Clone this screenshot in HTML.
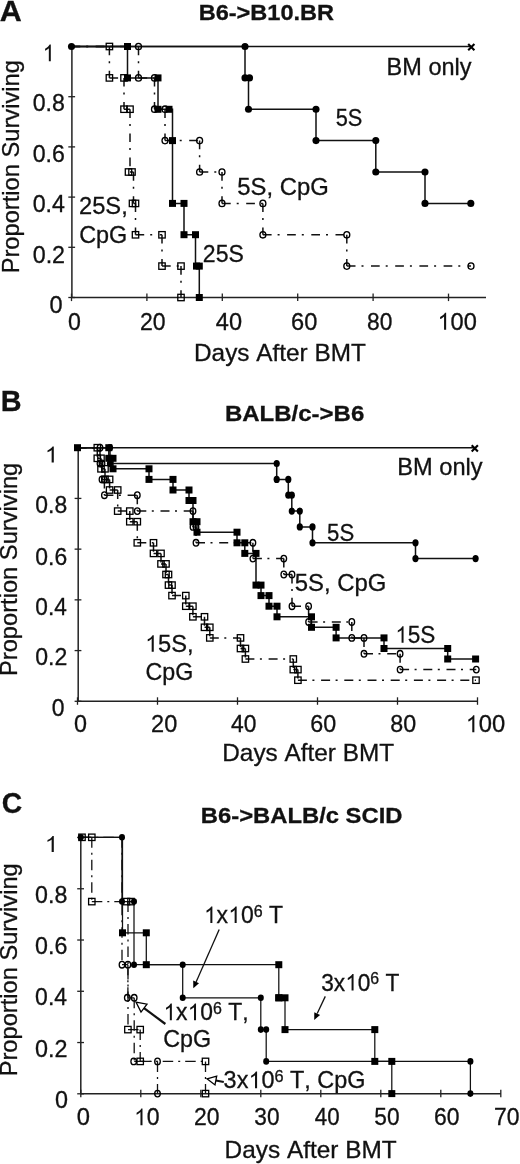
<!DOCTYPE html>
<html><head><meta charset="utf-8"><style>
html,body{margin:0;padding:0;background:#fff;}
svg{display:block;will-change:transform;}
text{font-family:"Liberation Sans",sans-serif;font-kerning:none;font-variant-ligatures:none;stroke:#111;stroke-width:0.3px;paint-order:stroke;}
</style></head><body>
<svg width="520" height="1164" viewBox="0 0 520 1164">
<rect width="520" height="1164" fill="#fff"/>
<line x1="71.9" y1="46.0" x2="71.9" y2="297.6" stroke="#222" stroke-width="1.5"/>
<line x1="71.9" y1="297.6" x2="486" y2="297.6" stroke="#222" stroke-width="1.5"/>
<line x1="68.30000000000001" y1="297.5" x2="75.10000000000001" y2="297.5" stroke="#222" stroke-width="1.3"/>
<line x1="68.30000000000001" y1="247.3" x2="75.10000000000001" y2="247.3" stroke="#222" stroke-width="1.3"/>
<line x1="68.30000000000001" y1="197.1" x2="75.10000000000001" y2="197.1" stroke="#222" stroke-width="1.3"/>
<line x1="68.30000000000001" y1="146.9" x2="75.10000000000001" y2="146.9" stroke="#222" stroke-width="1.3"/>
<line x1="68.30000000000001" y1="96.69999999999999" x2="75.10000000000001" y2="96.69999999999999" stroke="#222" stroke-width="1.3"/>
<line x1="68.30000000000001" y1="46.5" x2="75.10000000000001" y2="46.5" stroke="#222" stroke-width="1.3"/>
<line x1="71.5" y1="293.6" x2="71.5" y2="301.1" stroke="#222" stroke-width="1.3"/>
<line x1="146.9" y1="293.6" x2="146.9" y2="301.1" stroke="#222" stroke-width="1.3"/>
<line x1="222.3" y1="293.6" x2="222.3" y2="301.1" stroke="#222" stroke-width="1.3"/>
<line x1="297.70000000000005" y1="293.6" x2="297.70000000000005" y2="301.1" stroke="#222" stroke-width="1.3"/>
<line x1="373.1" y1="293.6" x2="373.1" y2="301.1" stroke="#222" stroke-width="1.3"/>
<line x1="448.5" y1="293.6" x2="448.5" y2="301.1" stroke="#222" stroke-width="1.3"/>
<text transform="translate(-0.13,20.80) scale(1.0101,1)" font-size="30.2" font-weight="bold" fill="#111">A</text>
<text transform="translate(18.75,273.34) rotate(-90) scale(1.0214,1)" font-size="23.2" fill="#111">Proportion Surviving</text>
<g transform="translate(42.48,61.20) scale(0.9621,1)" fill="#111"><path transform="translate(0.00,0) scale(0.01133,-0.01133)" d="M763 0L583 0L583 1147Q518 1085 432 1022Q332 960 240 925L240 1099Q389 1169 501 1269Q613 1369 660 1466L763 1466Z"/></g>
<text transform="translate(32.70,111.40) scale(0.9985,1)" font-size="23.2" fill="#111">0.8</text>
<text transform="translate(32.70,162.10) scale(0.9985,1)" font-size="23.2" fill="#111">0.6</text>
<text transform="translate(32.69,212.20) scale(1.0010,1)" font-size="23.2" fill="#111">0.4</text>
<text transform="translate(32.69,262.50) scale(1.0039,1)" font-size="23.2" fill="#111">0.2</text>
<text transform="translate(49.38,312.70) scale(1.0168,1)" font-size="23.2" fill="#111">0</text>
<text transform="translate(68.10,329.70) scale(0.9819,1)" font-size="23.6" fill="#111">0</text>
<text transform="translate(140.05,329.70) scale(0.9766,1)" font-size="23.6" fill="#111">20</text>
<text transform="translate(215.78,329.70) scale(0.9989,1)" font-size="23.6" fill="#111">40</text>
<text transform="translate(291.02,329.70) scale(1.0014,1)" font-size="23.6" fill="#111">60</text>
<text transform="translate(367.12,329.70) scale(0.9658,1)" font-size="23.6" fill="#111">80</text>
<g transform="translate(437.33,329.70) scale(1.0025,1)" fill="#111"><path transform="translate(0.00,0) scale(0.01152,-0.01152)" d="M763 0L583 0L583 1147Q518 1085 432 1022Q332 960 240 925L240 1099Q389 1169 501 1269Q613 1369 660 1466L763 1466Z"/><text x="13.13" y="0" font-size="23.6">00</text></g>
<text transform="translate(194.00,360.60) scale(1.0284,1)" font-size="23.7" fill="#111">Days After BMT</text>
<text transform="translate(386.57,74.80) scale(1.0097,1)" font-size="23.3" fill="#111">BM only</text>
<text transform="translate(335.73,125.90) scale(0.9475,1)" font-size="23" fill="#111">5S</text>
<text transform="translate(237.35,194.80) scale(1.0016,1)" font-size="23.8" fill="#111">5S, CpG</text>
<text transform="translate(79.02,214.30) scale(1.0078,1)" font-size="23.5" fill="#111">25S,</text>
<text transform="translate(79.23,242.50) scale(0.9998,1)" font-size="23.4" fill="#111">CpG</text>
<text transform="translate(202.85,262.00) scale(0.9931,1)" font-size="23.2" fill="#111">25S</text>
<path d="M71.5,46.5L109.4,46.5M109.4,46.5L109.4,77.9M109.4,77.9L124.0,77.9M124.0,77.9L124.0,109.2M124.0,109.2L130.0,109.2M130.0,109.2L130.0,172.0M130.0,172.0L133.5,172.0M133.5,172.0L133.5,203.4M133.5,203.4L135.5,203.4M135.5,203.4L135.5,234.8M135.5,234.8L162.0,234.8M162.0,234.8L162.0,266.1M162.0,266.1L181.0,266.1M181.0,266.1L181.0,297.5" fill="none" stroke="#111" stroke-width="1.5" stroke-dasharray="8.7 6 2 7.5"/>
<path d="M71.5,46.5L138.5,46.5M138.5,46.5L138.5,77.9M138.5,77.9L154.5,77.9M154.5,77.9L154.5,109.2M154.5,109.2L165.0,109.2M165.0,109.2L165.0,140.6M165.0,140.6L199.6,140.6M199.6,140.6L199.6,172.0M199.6,172.0L222.0,172.0M222.0,172.0L222.0,203.4M222.0,203.4L262.9,203.4M262.9,203.4L262.9,234.8M262.9,234.8L346.8,234.8M346.8,234.8L346.8,266.1M346.8,266.1L471.0,266.1" fill="none" stroke="#111" stroke-width="1.5" stroke-dasharray="8.7 6 2 7.5"/>
<polyline points="71.5,46.5 127.5,46.5 127.5,77.9 158.0,77.9 158.0,109.2 172.5,109.2 172.5,203.4 184.0,203.4 184.0,234.8 195.5,234.8 195.5,266.1 199.3,266.1 199.3,297.5" fill="none" stroke="#111" stroke-width="1.5" stroke-linejoin="miter"/>
<polyline points="71.5,46.5 245.0,46.5 245.0,77.9 248.5,77.9 248.5,109.2 316.0,109.2 316.0,140.6 375.8,140.6 375.8,172.0 425.0,172.0 425.0,203.4 470.8,203.4" fill="none" stroke="#111" stroke-width="1.5" stroke-linejoin="miter"/>
<line x1="71.5" y1="46.5" x2="471.3" y2="46.5" stroke="#111" stroke-width="1.5"/>
<path d="M468.2,44.0L474.4,50.2M468.2,50.2L474.4,44.0" stroke="#000" stroke-width="2.1"/>
<rect x="106.2" y="43.3" width="6.4" height="6.4" fill="none" stroke="#000" stroke-width="1.3"/>
<rect x="106.2" y="74.7" width="6.4" height="6.4" fill="none" stroke="#000" stroke-width="1.3"/>
<rect x="120.8" y="74.7" width="6.4" height="6.4" fill="none" stroke="#000" stroke-width="1.3"/>
<rect x="120.8" y="106.0" width="6.4" height="6.4" fill="none" stroke="#000" stroke-width="1.3"/>
<rect x="126.8" y="106.0" width="6.4" height="6.4" fill="none" stroke="#000" stroke-width="1.3"/>
<rect x="125.3" y="168.8" width="6.4" height="6.4" fill="none" stroke="#000" stroke-width="1.3"/>
<rect x="128.8" y="168.8" width="6.4" height="6.4" fill="none" stroke="#000" stroke-width="1.3"/>
<rect x="129.3" y="200.2" width="6.4" height="6.4" fill="none" stroke="#000" stroke-width="1.3"/>
<rect x="132.3" y="200.2" width="6.4" height="6.4" fill="none" stroke="#000" stroke-width="1.3"/>
<rect x="132.3" y="231.6" width="6.4" height="6.4" fill="none" stroke="#000" stroke-width="1.3"/>
<rect x="158.8" y="231.6" width="6.4" height="6.4" fill="none" stroke="#000" stroke-width="1.3"/>
<rect x="158.8" y="262.9" width="6.4" height="6.4" fill="none" stroke="#000" stroke-width="1.3"/>
<rect x="177.8" y="262.9" width="6.4" height="6.4" fill="none" stroke="#000" stroke-width="1.3"/>
<rect x="177.8" y="294.3" width="6.4" height="6.4" fill="none" stroke="#000" stroke-width="1.3"/>
<ellipse cx="138.5" cy="46.5" rx="3.00" ry="3.20" fill="none" stroke="#000" stroke-width="1.3"/>
<ellipse cx="138.5" cy="77.9" rx="3.00" ry="3.20" fill="none" stroke="#000" stroke-width="1.3"/>
<ellipse cx="154.5" cy="77.9" rx="3.00" ry="3.20" fill="none" stroke="#000" stroke-width="1.3"/>
<ellipse cx="154.5" cy="109.2" rx="3.00" ry="3.20" fill="none" stroke="#000" stroke-width="1.3"/>
<ellipse cx="165.0" cy="109.2" rx="3.00" ry="3.20" fill="none" stroke="#000" stroke-width="1.3"/>
<ellipse cx="165.0" cy="140.6" rx="3.00" ry="3.20" fill="none" stroke="#000" stroke-width="1.3"/>
<ellipse cx="199.6" cy="140.6" rx="3.00" ry="3.20" fill="none" stroke="#000" stroke-width="1.3"/>
<ellipse cx="199.6" cy="172.0" rx="3.00" ry="3.20" fill="none" stroke="#000" stroke-width="1.3"/>
<ellipse cx="222.0" cy="172.0" rx="3.00" ry="3.20" fill="none" stroke="#000" stroke-width="1.3"/>
<ellipse cx="222.0" cy="203.4" rx="3.00" ry="3.20" fill="none" stroke="#000" stroke-width="1.3"/>
<ellipse cx="262.9" cy="203.4" rx="3.00" ry="3.20" fill="none" stroke="#000" stroke-width="1.3"/>
<ellipse cx="262.9" cy="234.8" rx="3.00" ry="3.20" fill="none" stroke="#000" stroke-width="1.3"/>
<ellipse cx="346.8" cy="234.8" rx="3.00" ry="3.20" fill="none" stroke="#000" stroke-width="1.3"/>
<ellipse cx="346.8" cy="266.1" rx="3.00" ry="3.20" fill="none" stroke="#000" stroke-width="1.3"/>
<ellipse cx="471.0" cy="266.1" rx="3.00" ry="3.20" fill="none" stroke="#000" stroke-width="1.3"/>
<rect x="124.0" y="43.0" width="7.0" height="7.0" fill="#000"/>
<rect x="124.0" y="74.4" width="7.0" height="7.0" fill="#000"/>
<rect x="154.5" y="74.4" width="7.0" height="7.0" fill="#000"/>
<rect x="154.5" y="105.8" width="7.0" height="7.0" fill="#000"/>
<rect x="165.5" y="105.8" width="7.0" height="7.0" fill="#000"/>
<rect x="169.0" y="137.1" width="7.0" height="7.0" fill="#000"/>
<rect x="169.0" y="199.9" width="7.0" height="7.0" fill="#000"/>
<rect x="180.5" y="199.9" width="7.0" height="7.0" fill="#000"/>
<rect x="180.5" y="231.2" width="7.0" height="7.0" fill="#000"/>
<rect x="192.0" y="231.2" width="7.0" height="7.0" fill="#000"/>
<rect x="193.0" y="262.6" width="7.0" height="7.0" fill="#000"/>
<rect x="195.8" y="262.6" width="7.0" height="7.0" fill="#000"/>
<rect x="195.8" y="294.0" width="7.0" height="7.0" fill="#000"/>
<ellipse cx="245.0" cy="46.5" rx="3.55" ry="3.55" fill="#000"/>
<ellipse cx="245.0" cy="77.9" rx="3.55" ry="3.55" fill="#000"/>
<ellipse cx="249.5" cy="77.9" rx="3.55" ry="3.55" fill="#000"/>
<ellipse cx="248.5" cy="109.2" rx="3.55" ry="3.55" fill="#000"/>
<ellipse cx="316.0" cy="109.2" rx="3.55" ry="3.55" fill="#000"/>
<ellipse cx="316.0" cy="140.6" rx="3.55" ry="3.55" fill="#000"/>
<ellipse cx="375.8" cy="140.6" rx="3.55" ry="3.55" fill="#000"/>
<ellipse cx="375.8" cy="172.0" rx="3.55" ry="3.55" fill="#000"/>
<ellipse cx="425.0" cy="172.0" rx="3.55" ry="3.55" fill="#000"/>
<ellipse cx="425.0" cy="203.4" rx="3.55" ry="3.55" fill="#000"/>
<ellipse cx="470.8" cy="203.4" rx="3.55" ry="3.55" fill="#000"/>
<ellipse cx="71.5" cy="46.5" rx="3.55" ry="3.55" fill="#000"/>
<text transform="translate(198.64,19.80) scale(1.0380,1)" font-size="22.7" font-weight="bold" fill="#111">B6-&gt;B10.BR</text>
<line x1="78.2" y1="447.2" x2="78.2" y2="701.3" stroke="#222" stroke-width="1.5"/>
<line x1="78.2" y1="701.3" x2="477.3" y2="701.3" stroke="#222" stroke-width="1.5"/>
<line x1="74.60000000000001" y1="701.3" x2="81.4" y2="701.3" stroke="#222" stroke-width="1.3"/>
<line x1="74.60000000000001" y1="650.5799999999999" x2="81.4" y2="650.5799999999999" stroke="#222" stroke-width="1.3"/>
<line x1="74.60000000000001" y1="599.8599999999999" x2="81.4" y2="599.8599999999999" stroke="#222" stroke-width="1.3"/>
<line x1="74.60000000000001" y1="549.14" x2="81.4" y2="549.14" stroke="#222" stroke-width="1.3"/>
<line x1="74.60000000000001" y1="498.41999999999996" x2="81.4" y2="498.41999999999996" stroke="#222" stroke-width="1.3"/>
<line x1="74.60000000000001" y1="447.69999999999993" x2="81.4" y2="447.69999999999993" stroke="#222" stroke-width="1.3"/>
<line x1="77.5" y1="697.3" x2="77.5" y2="704.8" stroke="#222" stroke-width="1.3"/>
<line x1="157.5" y1="697.3" x2="157.5" y2="704.8" stroke="#222" stroke-width="1.3"/>
<line x1="237.5" y1="697.3" x2="237.5" y2="704.8" stroke="#222" stroke-width="1.3"/>
<line x1="317.5" y1="697.3" x2="317.5" y2="704.8" stroke="#222" stroke-width="1.3"/>
<line x1="397.5" y1="697.3" x2="397.5" y2="704.8" stroke="#222" stroke-width="1.3"/>
<line x1="477.5" y1="697.3" x2="477.5" y2="704.8" stroke="#222" stroke-width="1.3"/>
<text transform="translate(0.70,411.40) scale(0.9538,1)" font-size="30.2" font-weight="bold" fill="#111">B</text>
<text transform="translate(224.92,420.80) scale(1.0577,1)" font-size="22.7" font-weight="bold" fill="#111">BALB/c-&gt;B6</text>
<text transform="translate(17.30,676.04) rotate(-90) scale(1.0263,1)" font-size="23.1" fill="#111">Proportion Surviving</text>
<g transform="translate(44.61,462.40) scale(1.1063,1)" fill="#111"><path transform="translate(0.00,0) scale(0.01089,-0.01089)" d="M763 0L583 0L583 1147Q518 1085 432 1022Q332 960 240 925L240 1099Q389 1169 501 1269Q613 1369 660 1466L763 1466Z"/></g>
<text transform="translate(35.31,512.80) scale(0.9886,1)" font-size="23.2" fill="#111">0.8</text>
<text transform="translate(35.31,564.50) scale(0.9886,1)" font-size="23.2" fill="#111">0.6</text>
<text transform="translate(35.31,614.80) scale(0.9781,1)" font-size="23.2" fill="#111">0.4</text>
<text transform="translate(35.30,664.60) scale(0.9939,1)" font-size="23.2" fill="#111">0.2</text>
<text transform="translate(51.70,716.00) scale(0.9898,1)" font-size="23.2" fill="#111">0</text>
<text transform="translate(74.09,732.20) scale(0.9908,1)" font-size="23.6" fill="#111">0</text>
<text transform="translate(151.12,732.20) scale(0.9973,1)" font-size="23.6" fill="#111">20</text>
<text transform="translate(231.10,732.20) scale(0.9667,1)" font-size="23.6" fill="#111">40</text>
<text transform="translate(310.33,732.20) scale(0.9890,1)" font-size="23.6" fill="#111">60</text>
<text transform="translate(390.20,732.20) scale(0.9864,1)" font-size="23.6" fill="#111">80</text>
<g transform="translate(465.51,732.20) scale(1.0081,1)" fill="#111"><path transform="translate(0.00,0) scale(0.01152,-0.01152)" d="M763 0L583 0L583 1147Q518 1085 432 1022Q332 960 240 925L240 1099Q389 1169 501 1269Q613 1369 660 1466L763 1466Z"/><text x="13.13" y="0" font-size="23.6">00</text></g>
<text transform="translate(222.30,760.60) scale(1.0229,1)" font-size="23.8" fill="#111">Days After BMT</text>
<text transform="translate(397.36,475.20) scale(1.0102,1)" font-size="23.4" fill="#111">BM only</text>
<text transform="translate(327.11,540.80) scale(0.9628,1)" font-size="23" fill="#111">5S</text>
<text transform="translate(294.84,591.20) scale(1.0038,1)" font-size="23.8" fill="#111">5S, CpG</text>
<g transform="translate(395.15,642.80) scale(0.9813,1)" fill="#111"><path transform="translate(0.00,0) scale(0.01123,-0.01123)" d="M763 0L583 0L583 1147Q518 1085 432 1022Q332 960 240 925L240 1099Q389 1169 501 1269Q613 1369 660 1466L763 1466Z"/><text x="12.79" y="0" font-size="23">5S</text></g>
<g transform="translate(144.92,651.80) scale(1.0228,1)" fill="#111"><path transform="translate(0.00,0) scale(0.01133,-0.01133)" d="M763 0L583 0L583 1147Q518 1085 432 1022Q332 960 240 925L240 1099Q389 1169 501 1269Q613 1369 660 1466L763 1466Z"/><text x="12.90" y="0" font-size="23.2">5S,</text></g>
<text transform="translate(145.54,679.60) scale(1.0017,1)" font-size="23.2" fill="#111">CpG</text>
<path d="M77.5,447.7L97.3,447.7M97.3,447.7L97.3,458.3M97.3,458.3L101.0,458.3M101.0,458.3L101.0,468.8M101.0,468.8L105.0,468.8M105.0,468.8L105.0,479.4M105.0,479.4L109.6,479.4M109.6,479.4L109.6,490.0M109.6,490.0L117.7,490.0M117.7,490.0L117.7,511.1M117.7,511.1L129.8,511.1M129.8,511.1L129.8,521.7M129.8,521.7L137.3,521.7M137.3,521.7L137.3,542.8M137.3,542.8L153.5,542.8M153.5,542.8L153.5,553.4M153.5,553.4L161.0,553.4M161.0,553.4L161.0,563.9M161.0,563.9L166.0,563.9M166.0,563.9L166.0,574.5M166.0,574.5L168.5,574.5M168.5,574.5L168.5,585.1M168.5,585.1L172.0,585.1M172.0,585.1L172.0,595.6M172.0,595.6L185.8,595.6M185.8,595.6L185.8,606.2M185.8,606.2L192.9,606.2M192.9,606.2L192.9,616.8M192.9,616.8L204.5,616.8M204.5,616.8L204.5,627.3M204.5,627.3L209.8,627.3M209.8,627.3L209.8,637.9M209.8,637.9L240.5,637.9M240.5,637.9L240.5,648.5M240.5,648.5L245.4,648.5M245.4,648.5L245.4,659.0M245.4,659.0L293.3,659.0M293.3,659.0L293.3,669.6M293.3,669.6L297.9,669.6M297.9,669.6L297.9,680.2M297.9,680.2L476.0,680.2" fill="none" stroke="#111" stroke-width="1.5" stroke-dasharray="9 5.5 2 6.7"/>
<path d="M77.5,447.7L100.0,447.7M100.0,447.7L100.0,463.5M100.0,463.5L102.0,463.5M102.0,463.5L102.0,479.4M102.0,479.4L104.4,479.4M104.4,479.4L104.4,495.2M104.4,495.2L137.3,495.2M137.3,495.2L137.3,511.1M137.3,511.1L193.0,511.1M193.0,511.1L193.0,526.9M193.0,526.9L196.0,526.9M196.0,526.9L196.0,542.8M196.0,542.8L252.9,542.8M252.9,542.8L252.9,558.6M252.9,558.6L283.8,558.6M283.8,558.6L283.8,574.5M283.8,574.5L292.0,574.5M292.0,574.5L292.0,606.2M292.0,606.2L308.6,606.2M308.6,606.2L308.6,622.0M308.6,622.0L351.8,622.0M351.8,622.0L351.8,637.9M351.8,637.9L364.0,637.9M364.0,637.9L364.0,653.8M364.0,653.8L400.1,653.8M400.1,653.8L400.1,669.6M400.1,669.6L476.3,669.6" fill="none" stroke="#111" stroke-width="1.5" stroke-dasharray="9 5.5 2 6.7"/>
<polyline points="77.5,447.7 108.8,447.7 108.8,458.3 113.0,458.3 113.0,468.8 149.0,468.8 149.0,479.4 173.0,479.4 173.0,490.0 189.0,490.0 189.0,500.5 193.0,500.5 193.0,521.7 197.0,521.7 197.0,532.2 237.0,532.2 237.0,542.8 244.8,542.8 244.8,553.4 256.0,553.4 256.0,585.1 261.0,585.1 261.0,595.6 269.0,595.6 269.0,606.2 277.0,606.2 277.0,616.8 311.5,616.8 311.5,627.3 336.1,627.3 336.1,637.9 384.0,637.9 384.0,648.5 447.7,648.5 447.7,659.0 475.6,659.0" fill="none" stroke="#111" stroke-width="1.5" stroke-linejoin="miter"/>
<polyline points="77.5,447.7 110.0,447.7 110.0,463.5 276.7,463.5 276.7,479.4 288.3,479.4 288.3,495.2 291.8,495.2 291.8,511.1 299.8,511.1 299.8,526.9 312.5,526.9 312.5,542.8 415.5,542.8 415.5,558.6 475.6,558.6" fill="none" stroke="#111" stroke-width="1.5" stroke-linejoin="miter"/>
<line x1="77.5" y1="447.69999999999993" x2="474.8" y2="447.69999999999993" stroke="#111" stroke-width="1.5"/>
<path d="M471.7,445.2L477.9,451.4M471.7,451.4L477.9,445.2" stroke="#000" stroke-width="2.1"/>
<rect x="94.1" y="444.5" width="6.4" height="6.4" fill="none" stroke="#000" stroke-width="1.3"/>
<rect x="94.1" y="455.1" width="6.4" height="6.4" fill="none" stroke="#000" stroke-width="1.3"/>
<rect x="97.8" y="455.1" width="6.4" height="6.4" fill="none" stroke="#000" stroke-width="1.3"/>
<rect x="97.8" y="465.6" width="6.4" height="6.4" fill="none" stroke="#000" stroke-width="1.3"/>
<rect x="101.8" y="465.6" width="6.4" height="6.4" fill="none" stroke="#000" stroke-width="1.3"/>
<rect x="101.8" y="476.2" width="6.4" height="6.4" fill="none" stroke="#000" stroke-width="1.3"/>
<rect x="106.4" y="476.2" width="6.4" height="6.4" fill="none" stroke="#000" stroke-width="1.3"/>
<rect x="106.4" y="486.8" width="6.4" height="6.4" fill="none" stroke="#000" stroke-width="1.3"/>
<rect x="114.5" y="486.8" width="6.4" height="6.4" fill="none" stroke="#000" stroke-width="1.3"/>
<rect x="114.5" y="507.9" width="6.4" height="6.4" fill="none" stroke="#000" stroke-width="1.3"/>
<rect x="126.6" y="507.9" width="6.4" height="6.4" fill="none" stroke="#000" stroke-width="1.3"/>
<rect x="126.6" y="518.5" width="6.4" height="6.4" fill="none" stroke="#000" stroke-width="1.3"/>
<rect x="134.1" y="518.5" width="6.4" height="6.4" fill="none" stroke="#000" stroke-width="1.3"/>
<rect x="134.1" y="539.6" width="6.4" height="6.4" fill="none" stroke="#000" stroke-width="1.3"/>
<rect x="150.3" y="539.6" width="6.4" height="6.4" fill="none" stroke="#000" stroke-width="1.3"/>
<rect x="150.3" y="550.2" width="6.4" height="6.4" fill="none" stroke="#000" stroke-width="1.3"/>
<rect x="157.8" y="550.2" width="6.4" height="6.4" fill="none" stroke="#000" stroke-width="1.3"/>
<rect x="157.8" y="560.7" width="6.4" height="6.4" fill="none" stroke="#000" stroke-width="1.3"/>
<rect x="162.8" y="560.7" width="6.4" height="6.4" fill="none" stroke="#000" stroke-width="1.3"/>
<rect x="162.8" y="571.3" width="6.4" height="6.4" fill="none" stroke="#000" stroke-width="1.3"/>
<rect x="165.3" y="571.3" width="6.4" height="6.4" fill="none" stroke="#000" stroke-width="1.3"/>
<rect x="165.3" y="581.9" width="6.4" height="6.4" fill="none" stroke="#000" stroke-width="1.3"/>
<rect x="168.8" y="581.9" width="6.4" height="6.4" fill="none" stroke="#000" stroke-width="1.3"/>
<rect x="168.8" y="592.4" width="6.4" height="6.4" fill="none" stroke="#000" stroke-width="1.3"/>
<rect x="182.6" y="592.4" width="6.4" height="6.4" fill="none" stroke="#000" stroke-width="1.3"/>
<rect x="182.6" y="603.0" width="6.4" height="6.4" fill="none" stroke="#000" stroke-width="1.3"/>
<rect x="189.7" y="603.0" width="6.4" height="6.4" fill="none" stroke="#000" stroke-width="1.3"/>
<rect x="189.7" y="613.6" width="6.4" height="6.4" fill="none" stroke="#000" stroke-width="1.3"/>
<rect x="201.3" y="613.6" width="6.4" height="6.4" fill="none" stroke="#000" stroke-width="1.3"/>
<rect x="201.3" y="624.1" width="6.4" height="6.4" fill="none" stroke="#000" stroke-width="1.3"/>
<rect x="206.6" y="624.1" width="6.4" height="6.4" fill="none" stroke="#000" stroke-width="1.3"/>
<rect x="206.6" y="634.7" width="6.4" height="6.4" fill="none" stroke="#000" stroke-width="1.3"/>
<rect x="237.3" y="634.7" width="6.4" height="6.4" fill="none" stroke="#000" stroke-width="1.3"/>
<rect x="237.3" y="645.3" width="6.4" height="6.4" fill="none" stroke="#000" stroke-width="1.3"/>
<rect x="242.2" y="645.3" width="6.4" height="6.4" fill="none" stroke="#000" stroke-width="1.3"/>
<rect x="242.2" y="655.8" width="6.4" height="6.4" fill="none" stroke="#000" stroke-width="1.3"/>
<rect x="290.1" y="655.8" width="6.4" height="6.4" fill="none" stroke="#000" stroke-width="1.3"/>
<rect x="290.1" y="666.4" width="6.4" height="6.4" fill="none" stroke="#000" stroke-width="1.3"/>
<rect x="294.7" y="666.4" width="6.4" height="6.4" fill="none" stroke="#000" stroke-width="1.3"/>
<rect x="294.7" y="677.0" width="6.4" height="6.4" fill="none" stroke="#000" stroke-width="1.3"/>
<rect x="472.8" y="677.0" width="6.4" height="6.4" fill="none" stroke="#000" stroke-width="1.3"/>
<ellipse cx="100.0" cy="447.7" rx="2.80" ry="3.30" fill="none" stroke="#000" stroke-width="1.3"/>
<ellipse cx="100.0" cy="463.5" rx="2.80" ry="3.30" fill="none" stroke="#000" stroke-width="1.3"/>
<ellipse cx="102.0" cy="463.5" rx="2.80" ry="3.30" fill="none" stroke="#000" stroke-width="1.3"/>
<ellipse cx="102.0" cy="479.4" rx="2.80" ry="3.30" fill="none" stroke="#000" stroke-width="1.3"/>
<ellipse cx="104.4" cy="479.4" rx="2.80" ry="3.30" fill="none" stroke="#000" stroke-width="1.3"/>
<ellipse cx="104.4" cy="495.2" rx="2.80" ry="3.30" fill="none" stroke="#000" stroke-width="1.3"/>
<ellipse cx="137.3" cy="495.2" rx="2.80" ry="3.30" fill="none" stroke="#000" stroke-width="1.3"/>
<ellipse cx="137.3" cy="511.1" rx="2.80" ry="3.30" fill="none" stroke="#000" stroke-width="1.3"/>
<ellipse cx="193.0" cy="511.1" rx="2.80" ry="3.30" fill="none" stroke="#000" stroke-width="1.3"/>
<ellipse cx="193.0" cy="526.9" rx="2.80" ry="3.30" fill="none" stroke="#000" stroke-width="1.3"/>
<ellipse cx="196.0" cy="526.9" rx="2.80" ry="3.30" fill="none" stroke="#000" stroke-width="1.3"/>
<ellipse cx="196.0" cy="542.8" rx="2.80" ry="3.30" fill="none" stroke="#000" stroke-width="1.3"/>
<ellipse cx="252.9" cy="542.8" rx="2.80" ry="3.30" fill="none" stroke="#000" stroke-width="1.3"/>
<ellipse cx="252.9" cy="558.6" rx="2.80" ry="3.30" fill="none" stroke="#000" stroke-width="1.3"/>
<ellipse cx="283.8" cy="558.6" rx="2.80" ry="3.30" fill="none" stroke="#000" stroke-width="1.3"/>
<ellipse cx="283.8" cy="574.5" rx="2.80" ry="3.30" fill="none" stroke="#000" stroke-width="1.3"/>
<ellipse cx="292.0" cy="574.5" rx="2.80" ry="3.30" fill="none" stroke="#000" stroke-width="1.3"/>
<ellipse cx="292.0" cy="606.2" rx="2.80" ry="3.30" fill="none" stroke="#000" stroke-width="1.3"/>
<ellipse cx="308.6" cy="606.2" rx="2.80" ry="3.30" fill="none" stroke="#000" stroke-width="1.3"/>
<ellipse cx="308.6" cy="622.0" rx="2.80" ry="3.30" fill="none" stroke="#000" stroke-width="1.3"/>
<ellipse cx="351.8" cy="622.0" rx="2.80" ry="3.30" fill="none" stroke="#000" stroke-width="1.3"/>
<ellipse cx="351.8" cy="637.9" rx="2.80" ry="3.30" fill="none" stroke="#000" stroke-width="1.3"/>
<ellipse cx="364.0" cy="637.9" rx="2.80" ry="3.30" fill="none" stroke="#000" stroke-width="1.3"/>
<ellipse cx="364.0" cy="653.8" rx="2.80" ry="3.30" fill="none" stroke="#000" stroke-width="1.3"/>
<ellipse cx="400.1" cy="653.8" rx="2.80" ry="3.30" fill="none" stroke="#000" stroke-width="1.3"/>
<ellipse cx="400.1" cy="669.6" rx="2.80" ry="3.30" fill="none" stroke="#000" stroke-width="1.3"/>
<ellipse cx="476.3" cy="669.6" rx="2.80" ry="3.30" fill="none" stroke="#000" stroke-width="1.3"/>
<rect x="105.3" y="444.2" width="7.0" height="7.0" fill="#000"/>
<rect x="105.3" y="454.8" width="7.0" height="7.0" fill="#000"/>
<rect x="109.5" y="454.8" width="7.0" height="7.0" fill="#000"/>
<rect x="109.5" y="465.3" width="7.0" height="7.0" fill="#000"/>
<rect x="145.5" y="465.3" width="7.0" height="7.0" fill="#000"/>
<rect x="145.5" y="475.9" width="7.0" height="7.0" fill="#000"/>
<rect x="169.5" y="475.9" width="7.0" height="7.0" fill="#000"/>
<rect x="169.5" y="486.5" width="7.0" height="7.0" fill="#000"/>
<rect x="185.5" y="486.5" width="7.0" height="7.0" fill="#000"/>
<rect x="185.5" y="497.0" width="7.0" height="7.0" fill="#000"/>
<rect x="189.5" y="497.0" width="7.0" height="7.0" fill="#000"/>
<rect x="189.5" y="518.2" width="7.0" height="7.0" fill="#000"/>
<rect x="193.5" y="518.2" width="7.0" height="7.0" fill="#000"/>
<rect x="193.5" y="528.7" width="7.0" height="7.0" fill="#000"/>
<rect x="233.5" y="528.7" width="7.0" height="7.0" fill="#000"/>
<rect x="233.5" y="539.3" width="7.0" height="7.0" fill="#000"/>
<rect x="241.3" y="539.3" width="7.0" height="7.0" fill="#000"/>
<rect x="241.3" y="549.9" width="7.0" height="7.0" fill="#000"/>
<rect x="252.5" y="549.9" width="7.0" height="7.0" fill="#000"/>
<rect x="252.5" y="581.6" width="7.0" height="7.0" fill="#000"/>
<rect x="257.5" y="581.6" width="7.0" height="7.0" fill="#000"/>
<rect x="257.5" y="592.1" width="7.0" height="7.0" fill="#000"/>
<rect x="265.5" y="592.1" width="7.0" height="7.0" fill="#000"/>
<rect x="265.5" y="602.7" width="7.0" height="7.0" fill="#000"/>
<rect x="273.5" y="602.7" width="7.0" height="7.0" fill="#000"/>
<rect x="273.5" y="613.3" width="7.0" height="7.0" fill="#000"/>
<rect x="308.0" y="613.3" width="7.0" height="7.0" fill="#000"/>
<rect x="308.0" y="623.8" width="7.0" height="7.0" fill="#000"/>
<rect x="332.6" y="623.8" width="7.0" height="7.0" fill="#000"/>
<rect x="332.6" y="634.4" width="7.0" height="7.0" fill="#000"/>
<rect x="380.5" y="634.4" width="7.0" height="7.0" fill="#000"/>
<rect x="380.5" y="645.0" width="7.0" height="7.0" fill="#000"/>
<rect x="444.2" y="645.0" width="7.0" height="7.0" fill="#000"/>
<rect x="444.2" y="655.5" width="7.0" height="7.0" fill="#000"/>
<rect x="472.1" y="655.5" width="7.0" height="7.0" fill="#000"/>
<ellipse cx="110.0" cy="447.7" rx="3.10" ry="3.60" fill="#000"/>
<ellipse cx="110.0" cy="463.5" rx="3.10" ry="3.60" fill="#000"/>
<ellipse cx="276.7" cy="463.5" rx="3.10" ry="3.60" fill="#000"/>
<ellipse cx="276.7" cy="479.4" rx="3.10" ry="3.60" fill="#000"/>
<ellipse cx="288.3" cy="479.4" rx="3.10" ry="3.60" fill="#000"/>
<ellipse cx="288.3" cy="495.2" rx="3.10" ry="3.60" fill="#000"/>
<ellipse cx="291.8" cy="495.2" rx="3.10" ry="3.60" fill="#000"/>
<ellipse cx="291.8" cy="511.1" rx="3.10" ry="3.60" fill="#000"/>
<ellipse cx="299.8" cy="511.1" rx="3.10" ry="3.60" fill="#000"/>
<ellipse cx="299.8" cy="526.9" rx="3.10" ry="3.60" fill="#000"/>
<ellipse cx="312.5" cy="526.9" rx="3.10" ry="3.60" fill="#000"/>
<ellipse cx="312.5" cy="542.8" rx="3.10" ry="3.60" fill="#000"/>
<ellipse cx="415.5" cy="542.8" rx="3.10" ry="3.60" fill="#000"/>
<ellipse cx="415.5" cy="558.6" rx="3.10" ry="3.60" fill="#000"/>
<ellipse cx="475.6" cy="558.6" rx="3.10" ry="3.60" fill="#000"/>
<rect x="74.0" y="444.2" width="7.0" height="7.0" fill="#000"/>
<line x1="80.8" y1="837.0" x2="80.8" y2="1093.8" stroke="#222" stroke-width="1.5"/>
<line x1="80.8" y1="1093.8" x2="500.8" y2="1093.8" stroke="#222" stroke-width="1.5"/>
<line x1="77.2" y1="1093.8" x2="84.0" y2="1093.8" stroke="#222" stroke-width="1.3"/>
<line x1="77.2" y1="1042.54" x2="84.0" y2="1042.54" stroke="#222" stroke-width="1.3"/>
<line x1="77.2" y1="991.28" x2="84.0" y2="991.28" stroke="#222" stroke-width="1.3"/>
<line x1="77.2" y1="940.02" x2="84.0" y2="940.02" stroke="#222" stroke-width="1.3"/>
<line x1="77.2" y1="888.76" x2="84.0" y2="888.76" stroke="#222" stroke-width="1.3"/>
<line x1="77.2" y1="837.5" x2="84.0" y2="837.5" stroke="#222" stroke-width="1.3"/>
<line x1="80.8" y1="1089.8" x2="80.8" y2="1097.3" stroke="#222" stroke-width="1.3"/>
<line x1="140.8" y1="1089.8" x2="140.8" y2="1097.3" stroke="#222" stroke-width="1.3"/>
<line x1="200.8" y1="1089.8" x2="200.8" y2="1097.3" stroke="#222" stroke-width="1.3"/>
<line x1="260.8" y1="1089.8" x2="260.8" y2="1097.3" stroke="#222" stroke-width="1.3"/>
<line x1="320.8" y1="1089.8" x2="320.8" y2="1097.3" stroke="#222" stroke-width="1.3"/>
<line x1="380.8" y1="1089.8" x2="380.8" y2="1097.3" stroke="#222" stroke-width="1.3"/>
<line x1="440.8" y1="1089.8" x2="440.8" y2="1097.3" stroke="#222" stroke-width="1.3"/>
<line x1="500.8" y1="1089.8" x2="500.8" y2="1097.3" stroke="#222" stroke-width="1.3"/>
<text transform="translate(1.74,813.30) scale(0.9367,1)" font-size="30.2" font-weight="bold" fill="#111">C</text>
<text transform="translate(200.83,822.70) scale(1.0483,1)" font-size="22.7" font-weight="bold" fill="#111">B6-&gt;BALB/c SCID</text>
<text transform="translate(17.30,1076.34) rotate(-90) scale(1.0248,1)" font-size="23.1" fill="#111">Proportion Surviving</text>
<g transform="translate(44.61,852.00) scale(1.1063,1)" fill="#111"><path transform="translate(0.00,0) scale(0.01089,-0.01089)" d="M763 0L583 0L583 1147Q518 1085 432 1022Q332 960 240 925L240 1099Q389 1169 501 1269Q613 1369 660 1466L763 1466Z"/></g>
<text transform="translate(35.09,903.00) scale(1.0018,1)" font-size="23.2" fill="#111">0.8</text>
<text transform="translate(35.09,954.30) scale(1.0018,1)" font-size="23.2" fill="#111">0.6</text>
<text transform="translate(35.10,1005.40) scale(0.9912,1)" font-size="23.2" fill="#111">0.4</text>
<text transform="translate(35.09,1056.80) scale(1.0072,1)" font-size="23.2" fill="#111">0.2</text>
<text transform="translate(54.99,1107.90) scale(1.0078,1)" font-size="23.2" fill="#111">0</text>
<text transform="translate(76.67,1125.30) scale(1.0085,1)" font-size="23.6" fill="#111">0</text>
<g transform="translate(133.89,1125.30) scale(0.9785,1)" fill="#111"><path transform="translate(0.00,0) scale(0.01152,-0.01152)" d="M763 0L583 0L583 1147Q518 1085 432 1022Q332 960 240 925L240 1099Q389 1169 501 1269Q613 1369 660 1466L763 1466Z"/><text x="13.13" y="0" font-size="23.6">0</text></g>
<text transform="translate(194.05,1125.30) scale(0.9724,1)" font-size="23.6" fill="#111">20</text>
<text transform="translate(254.34,1125.30) scale(0.9612,1)" font-size="23.6" fill="#111">30</text>
<text transform="translate(314.71,1125.30) scale(0.9465,1)" font-size="23.6" fill="#111">40</text>
<text transform="translate(374.29,1125.30) scale(0.9630,1)" font-size="23.6" fill="#111">50</text>
<text transform="translate(434.05,1125.30) scale(0.9724,1)" font-size="23.6" fill="#111">60</text>
<text transform="translate(494.03,1125.30) scale(0.9734,1)" font-size="23.6" fill="#111">70</text>
<text transform="translate(224.60,1158.00) scale(1.0161,1)" font-size="24" fill="#111">Days After BMT</text>
<path d="M80.8,837.3L91.8,837.3M91.8,837.3L91.8,901.6M91.8,901.6L128.0,901.6M128.0,901.6L128.0,1029.6M128.0,1029.6L140.2,1029.6M140.2,1029.6L140.2,1061.4M140.2,1061.4L205.5,1061.4M205.5,1061.4L205.5,1093.6" fill="none" stroke="#111" stroke-width="1.3" stroke-dasharray="10.5 5 2 5"/>
<path d="M80.8,837.3L122.0,837.3M122.0,837.3L122.0,964.7M122.0,964.7L127.9,964.7M127.9,964.7L127.9,997.8M127.9,997.8L134.2,997.8M134.2,997.8L134.2,1061.4M134.2,1061.4L157.5,1061.4M157.5,1061.4L157.5,1093.6" fill="none" stroke="#111" stroke-width="1.3" stroke-dasharray="10.5 5 2 5"/>
<polyline points="80.8,837.3 122.5,837.3 122.5,932.8 146.3,932.8 146.3,964.7 278.8,964.7 278.8,997.8 285.0,997.8 285.0,1029.6 374.8,1029.6 374.8,1061.4 391.8,1061.4 391.8,1093.6" fill="none" stroke="#111" stroke-width="1.25" stroke-linejoin="miter"/>
<polyline points="80.8,837.3 122.0,837.3 122.0,901.6 134.0,901.6 134.0,964.7 182.7,964.7 182.7,997.8 260.8,997.8 260.8,1029.6 266.2,1029.6 266.2,1061.4 470.4,1061.4 470.4,1093.6" fill="none" stroke="#111" stroke-width="1.25" stroke-linejoin="miter"/>
<rect x="78.8" y="834.1" width="6.4" height="6.4" fill="none" stroke="#000" stroke-width="1.3"/>
<rect x="88.6" y="834.1" width="6.4" height="6.4" fill="none" stroke="#000" stroke-width="1.3"/>
<rect x="88.6" y="898.4" width="6.4" height="6.4" fill="none" stroke="#000" stroke-width="1.3"/>
<rect x="123.3" y="898.4" width="6.4" height="6.4" fill="none" stroke="#000" stroke-width="1.3"/>
<rect x="127.8" y="898.4" width="6.4" height="6.4" fill="none" stroke="#000" stroke-width="1.3"/>
<rect x="124.7" y="1026.4" width="6.4" height="6.4" fill="none" stroke="#000" stroke-width="1.3"/>
<rect x="137.0" y="1026.4" width="6.4" height="6.4" fill="none" stroke="#000" stroke-width="1.3"/>
<rect x="137.0" y="1058.2" width="6.4" height="6.4" fill="none" stroke="#000" stroke-width="1.3"/>
<rect x="202.3" y="1058.2" width="6.4" height="6.4" fill="none" stroke="#000" stroke-width="1.3"/>
<rect x="202.3" y="1090.4" width="6.4" height="6.4" fill="none" stroke="#000" stroke-width="1.3"/>
<ellipse cx="122.0" cy="964.7" rx="2.80" ry="3.30" fill="none" stroke="#000" stroke-width="1.3"/>
<ellipse cx="127.9" cy="964.7" rx="2.80" ry="3.30" fill="none" stroke="#000" stroke-width="1.3"/>
<ellipse cx="127.3" cy="997.8" rx="2.80" ry="3.30" fill="none" stroke="#000" stroke-width="1.3"/>
<ellipse cx="134.2" cy="997.8" rx="2.80" ry="3.30" fill="none" stroke="#000" stroke-width="1.3"/>
<ellipse cx="133.7" cy="1061.4" rx="2.80" ry="3.30" fill="none" stroke="#000" stroke-width="1.3"/>
<ellipse cx="157.5" cy="1061.4" rx="2.80" ry="3.30" fill="none" stroke="#000" stroke-width="1.3"/>
<ellipse cx="157.5" cy="1093.6" rx="2.80" ry="3.30" fill="none" stroke="#000" stroke-width="1.3"/>
<rect x="119.0" y="929.3" width="7.0" height="7.0" fill="#000"/>
<rect x="142.8" y="929.3" width="7.0" height="7.0" fill="#000"/>
<rect x="142.8" y="961.2" width="7.0" height="7.0" fill="#000"/>
<rect x="275.3" y="961.2" width="7.0" height="7.0" fill="#000"/>
<rect x="275.3" y="994.3" width="7.0" height="7.0" fill="#000"/>
<rect x="281.5" y="994.3" width="7.0" height="7.0" fill="#000"/>
<rect x="281.5" y="1026.1" width="7.0" height="7.0" fill="#000"/>
<rect x="371.3" y="1026.1" width="7.0" height="7.0" fill="#000"/>
<rect x="371.3" y="1057.9" width="7.0" height="7.0" fill="#000"/>
<rect x="388.3" y="1057.9" width="7.0" height="7.0" fill="#000"/>
<rect x="388.3" y="1090.1" width="7.0" height="7.0" fill="#000"/>
<rect x="275.3" y="994.3" width="7.0" height="7.0" fill="#000"/>
<ellipse cx="122.0" cy="837.3" rx="3.00" ry="3.30" fill="#000"/>
<ellipse cx="122.0" cy="901.6" rx="3.00" ry="3.30" fill="#000"/>
<ellipse cx="134.0" cy="901.6" rx="3.00" ry="3.30" fill="#000"/>
<ellipse cx="134.0" cy="964.7" rx="3.00" ry="3.30" fill="#000"/>
<ellipse cx="182.7" cy="964.7" rx="3.00" ry="3.30" fill="#000"/>
<ellipse cx="182.7" cy="997.8" rx="3.00" ry="3.30" fill="#000"/>
<ellipse cx="260.8" cy="997.8" rx="3.00" ry="3.30" fill="#000"/>
<ellipse cx="260.8" cy="1029.6" rx="3.00" ry="3.30" fill="#000"/>
<ellipse cx="266.2" cy="1029.6" rx="3.00" ry="3.30" fill="#000"/>
<ellipse cx="266.2" cy="1061.4" rx="3.00" ry="3.30" fill="#000"/>
<ellipse cx="470.4" cy="1061.4" rx="3.00" ry="3.30" fill="#000"/>
<ellipse cx="470.4" cy="1093.6" rx="3.00" ry="3.30" fill="#000"/>
<ellipse cx="80.8" cy="837.3" rx="3.00" ry="3.30" fill="#000"/>
<g transform="translate(203.81,923.00) scale(0.9911,1)" fill="#111"><path transform="translate(0.00,0) scale(0.01133,-0.01133)" d="M763 0L583 0L583 1147Q518 1085 432 1022Q332 960 240 925L240 1099Q389 1169 501 1269Q613 1369 660 1466L763 1466Z"/><text x="12.90" y="0" font-size="23.2">x</text><path transform="translate(24.50,0) scale(0.01133,-0.01133)" d="M763 0L583 0L583 1147Q518 1085 432 1022Q332 960 240 925L240 1099Q389 1169 501 1269Q613 1369 660 1466L763 1466Z"/><text x="37.41" y="0" font-size="23.2">0</text><text x="50.31" y="-6.2" font-size="16.2">6</text><text x="59.32" y="0" font-size="23.2">&#160;T</text></g>
<line x1="219.2" y1="929.4" x2="196.117711889507" y2="981.8921532705806" stroke="#111" stroke-width="1.3"/>
<path d="M193.3,988.3L193.2,980.6L199.0,983.2Z" fill="#000"/>
<g transform="translate(321.14,990.50) scale(0.9781,1)" fill="#111"><text x="0.00" y="0" font-size="23.2">3x</text><path transform="translate(24.50,0) scale(0.01133,-0.01133)" d="M763 0L583 0L583 1147Q518 1085 432 1022Q332 960 240 925L240 1099Q389 1169 501 1269Q613 1369 660 1466L763 1466Z"/><text x="37.41" y="0" font-size="23.2">0</text><text x="50.31" y="-6.6" font-size="16.2">6</text><text x="59.32" y="0" font-size="23.2">&#160;T</text></g>
<line x1="325.3" y1="996.4" x2="317.1896558703432" y2="1013.5705483826067" stroke="#111" stroke-width="1.3"/>
<path d="M314.2,1019.9L314.3,1012.2L320.1,1014.9Z" fill="#000"/>
<g transform="translate(163.32,1020.20) scale(0.9868,1)" fill="#111"><path transform="translate(0.00,0) scale(0.01133,-0.01133)" d="M763 0L583 0L583 1147Q518 1085 432 1022Q332 960 240 925L240 1099Q389 1169 501 1269Q613 1369 660 1466L763 1466Z"/><text x="12.90" y="0" font-size="23.2">x</text><path transform="translate(24.50,0) scale(0.01133,-0.01133)" d="M763 0L583 0L583 1147Q518 1085 432 1022Q332 960 240 925L240 1099Q389 1169 501 1269Q613 1369 660 1466L763 1466Z"/><text x="37.41" y="0" font-size="23.2">0</text><text x="50.31" y="-6.2" font-size="16.2">6</text><text x="59.32" y="0" font-size="23.2">&#160;T,</text></g>
<text transform="translate(163.14,1047.20) scale(1.0040,1)" font-size="23.2" fill="#111">CpG</text>
<line x1="165.4" y1="1024" x2="144.0195969711027" y2="1008.07378141725" stroke="#111" stroke-width="2.2"/>
<path d="M136.0,1002.1L147.0,1004.1L141.0,1012.1Z" fill="#fff" stroke="#000" stroke-width="1.3" stroke-linejoin="miter"/>
<g transform="translate(223.61,1088.20) scale(1.0099,1)" fill="#111"><text x="0.00" y="0" font-size="23.2">3x</text><path transform="translate(24.50,0) scale(0.01133,-0.01133)" d="M763 0L583 0L583 1147Q518 1085 432 1022Q332 960 240 925L240 1099Q389 1169 501 1269Q613 1369 660 1466L763 1466Z"/><text x="37.41" y="0" font-size="23.2">0</text><text x="50.31" y="-6.2" font-size="16.2">6</text><text x="59.32" y="0" font-size="23.2">&#160;T,&#160;CpG</text></g>
<line x1="223.8" y1="1082" x2="215.84104709780226" y2="1080.4840089710099" stroke="#111" stroke-width="2.2"/>
<path d="M207.0,1078.8L216.7,1076.1L215.0,1084.9Z" fill="#fff" stroke="#000" stroke-width="1.3" stroke-linejoin="miter"/>
</svg>
</body></html>
